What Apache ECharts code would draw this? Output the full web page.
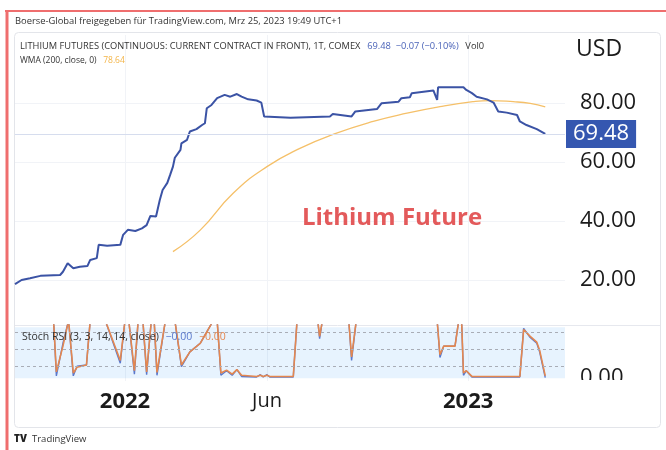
<!DOCTYPE html>
<html>
<head>
<meta charset="utf-8">
<script src="https://cdn.jsdelivr.net/npm/echarts@6/dist/echarts.min.js"></script>
<style>
html, body { margin: 0; padding: 0; background: #fff; }
#chart-container { width: 666px; height: 450px; }
</style>
</head>
<body>
<div id="chart-container"></div>
<script>
// price (close)
var priceDates = ['2021-09-06','2021-09-13','2021-09-22','2021-10-03','2021-10-24','2021-10-27','2021-11-01','2021-11-07',
  '2021-11-14','2021-11-22','2021-11-25','2021-12-02','2021-12-04','2021-12-13','2021-12-27','2021-12-30',
  '2022-01-04','2022-01-12','2022-01-19','2022-01-24','2022-01-28','2022-02-03','2022-02-07','2022-02-10',
  '2022-02-15','2022-02-18','2022-02-21','2022-02-23','2022-03-01','2022-03-02','2022-03-08','2022-03-11',
  '2022-03-18','2022-03-24','2022-03-27','2022-03-29','2022-04-03','2022-04-09','2022-04-17','2022-04-23',
  '2022-04-30','2022-05-05','2022-05-12','2022-05-21','2022-05-26','2022-05-29','2022-06-26','2022-08-07',
  '2022-08-10','2022-08-18','2022-08-30','2022-09-03','2022-09-26','2022-10-01','2022-10-19','2022-10-22',
  '2022-10-31','2022-11-02','2022-11-25','2022-11-29','2022-11-30','2022-12-27','2022-12-30','2023-01-05',
  '2023-01-10','2023-01-21','2023-01-28','2023-02-02','2023-02-11','2023-02-22','2023-02-25','2023-03-04',
  '2023-03-15','2023-03-24'];
var priceValues = [18.6,20.0,20.6,21.4,21.7,22.8,25.7,24.0,
  24.5,24.7,26.8,27.4,31.9,31.6,31.9,35.3,
  37.0,36.6,37.5,38.6,41.7,41.5,47.1,50.5,
  52.9,55.6,58.4,61.4,64.1,66.3,67.5,70.3,
  71.1,72.5,73.1,78.2,79.3,81.6,82.7,82.1,
  83.0,82.1,81.2,80.8,80.1,75.4,75.0,75.4,
  76.2,75.9,75.4,77.1,77.9,79.9,80.4,81.6,
  81.9,83.3,84.2,81.0,85.3,85.3,84.4,83.3,
  82.1,81.2,80.1,77.1,76.7,75.9,73.7,72.5,
  71.1,69.48];

// WMA (200, close, 0)
var wmaDates = ['2022-02-21','2022-03-22','2022-04-26','2022-06-01','2022-07-06','2022-08-11','2022-09-22',
  '2022-10-28','2022-12-02','2023-01-06','2023-01-24','2023-02-18','2023-03-08','2023-03-24'];
var wmaValues = [29.6,36.9,49.4,58.4,64.6,69.4,73.7,76.5,78.7,80.4,80.8,80.4,79.8,78.64];

// Stoch RSI (3, 3, 14, 14, close)
var stochDates = ['2021-09-06','2021-10-17','2021-10-20','2021-10-27','2021-11-02','2021-11-07','2021-11-11','2021-11-21',
  '2021-11-25','2021-12-11','2021-12-27','2022-01-01','2022-01-05','2022-01-11','2022-01-15','2022-01-20',
  '2022-01-24','2022-01-29','2022-02-01','2022-02-04','2022-02-13','2022-02-23','2022-03-02','2022-03-11',
  '2022-03-22','2022-04-05','2022-04-09','2022-04-13','2022-04-19','2022-04-25','2022-04-30','2022-05-05',
  '2022-05-21','2022-05-25','2022-05-28','2022-06-01','2022-06-04','2022-06-29','2022-07-03','2022-07-25',
  '2022-07-27','2022-07-30','2022-08-27','2022-08-30','2022-09-04','2022-11-29','2022-12-02','2022-12-06',
  '2022-12-18','2022-12-22','2022-12-25','2022-12-27','2022-12-30','2023-01-05','2023-02-25','2023-03-01',
  '2023-03-08','2023-03-15','2023-03-18','2023-03-24'];
var stochK = [100,100,3,60,100,3,20,22,100,100,25,100,100,6,100,100,5,100,100,4,
  100,100,19,45,60,100,100,4,12,4,14,2,1,5,1,5,1,1,100,100,
  68,100,100,30,100,100,35,55,55,100,100,4,12,1,1,86,70,60,45,0];
var stochD = [100,100,10,55,100,8,18,22,100,100,30,100,100,12,100,100,10,100,100,9,
  100,100,22,45,60,100,100,8,13,6,14,4,2,4,2,4,2,2,100,100,
  72,100,100,36,100,100,40,55,55,100,100,8,12,2,2,84,72,62,48,3];

var xLabelDates = ['2022-01-01', '2022-06-01', '2023-01-01'];
var xLabelTexts = ['{y|2022}', '{m|Jun}', '{y|2023}'];
var priceTicks = [20, 40, 60, 80];
var stochTicks = [0];
var stochLevels = [80, 50, 20];
var lastPrice = 69.48;

function ts(s) {
  var p = s.split('-');
  return new Date(+p[0], +p[1] - 1, +p[2]).getTime();
}
function zip(d, v) {
  return d.map(function (x, i) { return [ts(x), v[i]]; });
}

var xMin = ts('2021-09-06');
var xMax = ts('2023-04-14');
var xLabelTs = xLabelDates.map(ts);
var FONT = 'Open Sans';

var dom = document.getElementById('chart-container');
var myChart = echarts.init(dom, null, { renderer: 'canvas' });

var option = {
  animation: false,
  backgroundColor: '#fff',
  textStyle: { fontFamily: FONT },
  grid: [
    { left: 15, right: 101, top: 35, height: 290 },
    { left: 15, right: 101, top: 325, height: 56 }
  ],
  xAxis: [
    {
      type: 'value', gridIndex: 0, min: xMin, max: xMax,
      axisLine: { show: false },
      axisTick: { show: false, customValues: xLabelTs },
      axisLabel: { show: false, customValues: xLabelTs },
      splitLine: { show: true, lineStyle: { color: '#f1f3f7' } }
    },
    {
      type: 'value', gridIndex: 1, min: xMin, max: xMax,
      axisLine: { show: false },
      axisTick: { show: false, customValues: xLabelTs },
      splitLine: { show: true, lineStyle: { color: '#f1f3f7' } },
      axisLabel: {
        customValues: xLabelTs,
        margin: 10,
        formatter: function (v) {
          var i = xLabelTs.indexOf(v);
          return i >= 0 ? xLabelTexts[i] : '';
        },
        rich: {
          y: { fontSize: 22, fontWeight: 'bold', color: '#1b1b1b', fontFamily: FONT },
          m: { fontSize: 20, color: '#1b1b1b', fontFamily: FONT }
        }
      }
    }
  ],
  yAxis: [
    {
      type: 'value', gridIndex: 0, position: 'right', min: 4.75, max: 103,
      axisLine: { show: false },
      axisTick: { show: false, customValues: priceTicks },
      splitLine: { show: true, lineStyle: { color: '#f1f3f7' } },
      axisLabel: {
        customValues: priceTicks,
        margin: 15,
        fontSize: 22,
        color: '#1b1b1b',
        fontFamily: FONT,
        formatter: function (v) { return v.toFixed(2); }
      }
    },
    {
      type: 'value', gridIndex: 1, position: 'right', min: -6, max: 92,
      axisLine: { show: false },
      axisTick: { show: false },
      splitLine: { show: false },
      axisLabel: {
        customValues: stochTicks,
        margin: 15,
        fontSize: 22,
        color: '#1b1b1b',
        fontFamily: FONT,
        formatter: function (v) { return v.toFixed(2); }
      }
    }
  ],
  series: [
    {
      name: 'WMA', type: 'line', xAxisIndex: 0, yAxisIndex: 0,
      data: zip(wmaDates, wmaValues), smooth: true,
      showSymbol: false,
      lineStyle: { color: '#f5c069', width: 1.3 }
    },
    {
      name: 'Lithium', type: 'line', xAxisIndex: 0, yAxisIndex: 0,
      data: zip(priceDates, priceValues),
      showSymbol: false,
      lineStyle: { color: '#3b53a5', width: 2 },
      markLine: {
        silent: true, symbol: 'none',
        lineStyle: { color: '#d6ddee', width: 1, type: 'solid' },
        label: {
          show: true, position: 'end', distance: 1,
          formatter: lastPrice.toFixed(2),
          color: '#fff', backgroundColor: '#3557b0',
          fontSize: 22, fontFamily: FONT, lineHeight: 22,
          padding: [3, 7, 3, 7]
        },
        data: [{ yAxis: lastPrice }]
      }
    },
    {
      name: 'K', type: 'line', xAxisIndex: 1, yAxisIndex: 1,
      data: zip(stochDates, stochK),
      showSymbol: false,
      lineStyle: { color: '#5a78cc', width: 1.4 },
      markLine: {
        silent: true, symbol: 'none', label: { show: false },
        lineStyle: { color: '#a9adb6', width: 1, type: [3, 3] },
        data: stochLevels.map(function (l) { return { yAxis: l }; })
      },
      markArea: {
        silent: true,
        itemStyle: { color: 'rgba(33,150,243,0.11)' },
        data: [[{ yAxis: -1 }, { yAxis: 88 }]]
      }
    },
    {
      name: 'D', type: 'line', xAxisIndex: 1, yAxisIndex: 1,
      data: zip(stochDates, stochD),
      showSymbol: false,
      lineStyle: { color: '#e4874f', width: 1.6 }
    }
  ],
  graphic: [
    // outer red frame
    { type: 'line', shape: { x1: 5, y1: 11, x2: 666, y2: 11 }, style: { stroke: '#ef6e6e', lineWidth: 2 }, z: 200 },
    { type: 'line', shape: { x1: 7, y1: 10, x2: 7, y2: 450 }, style: { stroke: '#ef6e6e', lineWidth: 3 }, z: 200 },
    // inner panel
    { type: 'rect', shape: { x: 14.5, y: 32.5, width: 646, height: 395, r: 4 }, style: { fill: null, stroke: '#e3e5ea', lineWidth: 1 }, z: 1 },
    { type: 'line', shape: { x1: 15, y1: 325.5, x2: 660, y2: 325.5 }, style: { stroke: '#e6e8ee', lineWidth: 1 }, z: 1 },
    // clip the lower pane's scale label
    { type: 'rect', shape: { x: 568, y: 380, width: 90, height: 14 }, style: { fill: '#fff' }, z: 150 },
    {
      type: 'text', left: 15, top: 17, z: 200,
      style: { text: 'Boerse-Global freigegeben für TradingView.com, Mrz 25, 2023 19:49 UTC+1', fill: '#333', font: '9.4px "Open Sans"' }
    },
    {
      type: 'text', left: 20, top: 40, z: 200,
      style: {
        text: '{a|LITHIUM FUTURES (CONTINUOUS: CURRENT CONTRACT IN FRONT), 1T, COMEX}  {b|69.48  −0.07 (−0.10%)}  {a|Vol0}',
        rich: {
          a: { fontSize: 9.3, fontFamily: FONT, fill: '#333' },
          b: { fontSize: 9.3, fontFamily: FONT, fill: '#4a63b8' }
        }
      }
    },
    {
      type: 'text', left: 20, top: 55, z: 200,
      style: {
        text: '{a|WMA (200, close, 0)}  {b|78.64}',
        rich: {
          a: { fontSize: 8.5, fontFamily: FONT, fill: '#333' },
          b: { fontSize: 8.5, fontFamily: FONT, fill: '#f3b447' }
        }
      }
    },
    {
      type: 'text', left: 576, top: 38, z: 200,
      style: { text: 'USD', fill: '#1b1b1b', font: '23px "Open Sans"' }
    },
    {
      type: 'text', x: 392, y: 218, z: 200,
      style: { text: 'Lithium Future', fill: '#e35a5b', font: 'bold 24px "Open Sans"', align: 'center', verticalAlign: 'middle' }
    },
    {
      type: 'text', left: 22, top: 331, z: 200,
      style: {
        text: '{a|Stoch RSI (3, 3, 14, 14, close)}  {b|−0.00}  {c|−0.00}',
        rich: {
          a: { fontSize: 10.5, fontFamily: FONT, fill: '#333' },
          b: { fontSize: 10.5, fontFamily: FONT, fill: '#5a78cc' },
          c: { fontSize: 10.5, fontFamily: FONT, fill: '#e4874f' }
        }
      }
    },
    {
      type: 'text', left: 14, top: 434, z: 200,
      style: { text: 'TV', fill: '#222', font: '900 10px "Open Sans"' }
    },
    {
      type: 'text', left: 32, top: 434, z: 200,
      style: { text: 'TradingView', fill: '#333', font: '9.5px "Open Sans"' }
    }
  ]
};

if (option && typeof option === 'object') {
  myChart.setOption(option);
}

window.addEventListener('resize', myChart.resize);
</script>
</body>
</html>
